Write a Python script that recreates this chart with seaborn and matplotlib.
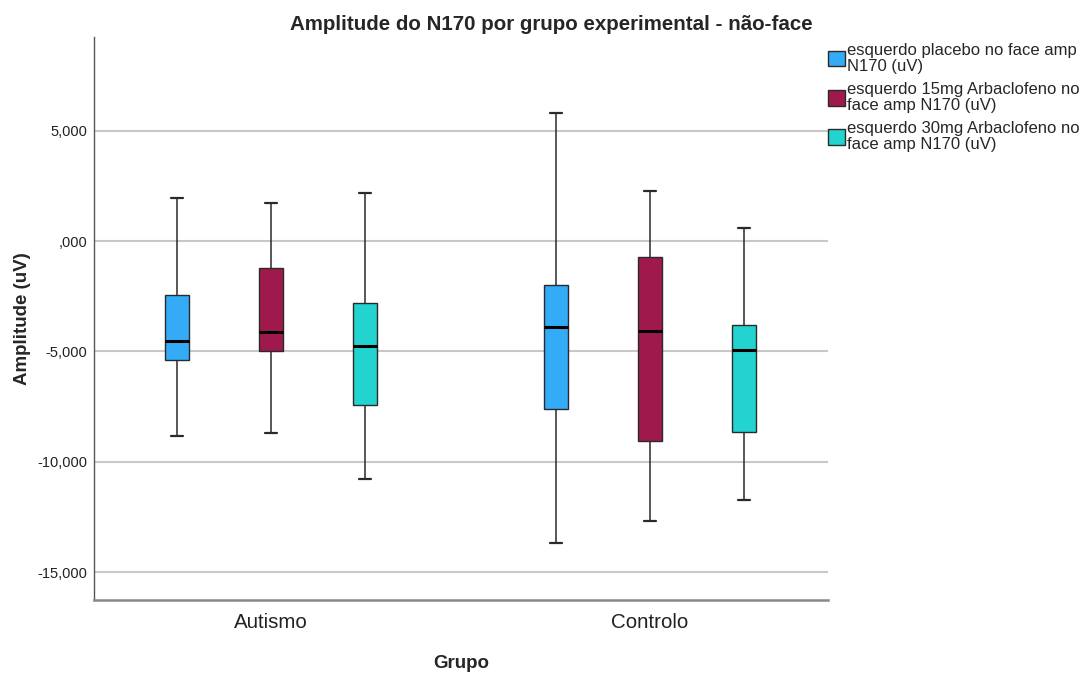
import numpy as np
import pandas as pd
import matplotlib
matplotlib.use("Agg")
import matplotlib.pyplot as plt
from matplotlib.ticker import FuncFormatter
from matplotlib.patches import Patch
import seaborn as sns

# Groups and conditions
groups = ["Autismo", "Controlo"]
conditions = [
    "esquerdo placebo no face amp\nN170 (uV)",
    "esquerdo 15mg Arbaclofeno no\nface amp N170 (uV)",
    "esquerdo 30mg Arbaclofeno no\nface amp N170 (uV)",
]
colors = ["#33ABF7", "#A0194D", "#22D3CF"]

# Five-number summaries (min, Q1, median, Q3, max) per group, per condition
placebo_autismo = [-8840, -5394, -4533, -2448, 1949]
placebo_controlo = [-13690, -7616, -3898, -1995, 5802]
mg15_autismo = [-8704, -4986, -4125, -1224, 1723]
mg15_controlo = [-12693, -9066, -4080, -725, 2267]
mg30_autismo = [-10789, -7434, -4760, -2811, 2176]
mg30_controlo = [-11741, -8658, -4941, -3808, 589]

summaries = {
    (groups[0], conditions[0]): placebo_autismo,
    (groups[1], conditions[0]): placebo_controlo,
    (groups[0], conditions[1]): mg15_autismo,
    (groups[1], conditions[1]): mg15_controlo,
    (groups[0], conditions[2]): mg30_autismo,
    (groups[1], conditions[2]): mg30_controlo,
}

rows = []
for (g, c), vals in summaries.items():
    for v in vals:
        rows.append({"Grupo": g, "Condição": c, "Amplitude": v})
df = pd.DataFrame(rows)

sns.set_style("white")
plt.rcParams["font.family"] = ["Liberation Sans", "DejaVu Sans"]

fig = plt.figure(figsize=(10.82, 6.75), dpi=100)
ax = fig.add_axes([0.0869, 0.111, 0.7652 - 0.0869, 0.945 - 0.111])
ax.set_axisbelow(True)

sns.boxplot(
    data=df, x="Grupo", y="Amplitude", hue="Condição",
    order=groups, hue_order=conditions, palette=colors,
    width=0.744, gap=0.745, whis=(0, 100), showfliers=False,
    linecolor="#2a2a2a", linewidth=1.0, saturation=1,
    medianprops={"color": "black", "linewidth": 2.2},
    whiskerprops={"color": "#2a2a2a", "linewidth": 1.1},
    capprops={"color": "#2a2a2a", "linewidth": 1.6},
    legend=False, ax=ax,
)

ax.set_xlim(-0.467, 1.47)
ax.set_ylim(-16270, 9250)
ax.set_yticks([-15000, -10000, -5000, 0, 5000])


def fmt(v, pos):
    if v == 0:
        return ",000"
    return f"{v:,.0f}"


ax.yaxis.set_major_formatter(FuncFormatter(fmt))
ax.yaxis.grid(True, color="#C8C8C8", linewidth=1.5)
ax.xaxis.grid(False)

for s in ["top", "right"]:
    ax.spines[s].set_visible(False)
ax.spines["left"].set_color("#555555")
ax.spines["left"].set_linewidth(1.0)
ax.spines["bottom"].set_color("#888888")
ax.spines["bottom"].set_linewidth(1.8)

ax.tick_params(axis="y", length=0, pad=5, labelsize=10.5, labelcolor="#222222")
ax.tick_params(axis="x", length=0, pad=9, labelsize=14.8, labelcolor="#222222")

ax.set_ylabel("Amplitude (uV)", fontsize=13.5, fontweight="bold", va="center")
ax.yaxis.set_label_coords(-0.098, 0.5)
ax.set_xlabel("Grupo", fontsize=13.5, fontweight="bold", va="center")
ax.xaxis.set_label_coords(0.5, -0.112)

fig.text(551 / 1082, 1 - 25 / 675,
         "Amplitude do N170 por grupo experimental - não-face",
         fontsize=14.8, fontweight="bold", ha="center", va="center")

handles = [Patch(facecolor=c, edgecolor="#2a2a2a", linewidth=1.0) for c in colors]
leg = ax.legend(handles, conditions, loc="upper left", bbox_to_anchor=(1.0, 0.99),
                borderaxespad=0, frameon=False, fontsize=12, handlelength=1.05,
                handleheight=1.05, handletextpad=0.12, labelspacing=0.5,
                borderpad=0)
for t in leg.get_texts():
    t.set_linespacing(1.08)

fig.savefig("out.png", dpi=100)
